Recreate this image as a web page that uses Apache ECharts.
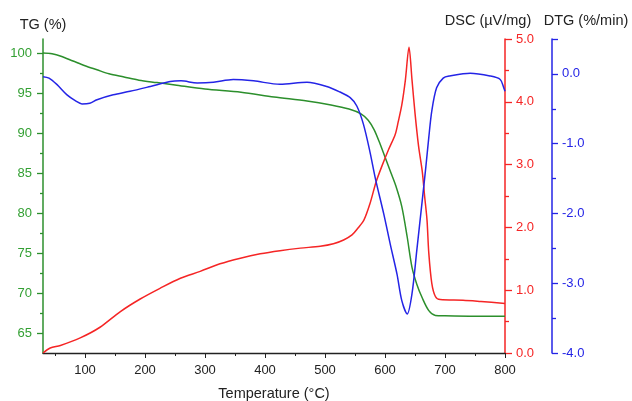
<!DOCTYPE html>
<html>
<head>
<meta charset="utf-8">
<script src="https://cdn.jsdelivr.net/npm/echarts@6/dist/echarts.min.js"></script>
<style>
  html, body { margin: 0; padding: 0; background: #fff; }
  #chart { width: 632px; height: 401px; }
</style>
</head>
<body>
<div id="chart"></div>
<script>
// TG curve (%)
var tgTemp = [30, 45, 60, 80, 100, 120, 140, 165, 190, 220, 250, 300, 360, 415, 470, 510, 540, 560, 572, 582, 592, 600, 610, 618, 628, 637, 645, 653, 662, 673, 684, 700, 750, 800];
var tgValues = [100, 99.9, 99.6, 99.0, 98.4, 97.9, 97.4, 97.0, 96.6, 96.3, 96.0, 95.5, 95.1, 94.5, 94.0, 93.5, 93.0, 92.4, 91.6, 90.4, 88.6, 87.0, 85.0, 83.4, 80.8, 77.0, 73.2, 71.1, 69.4, 67.8, 67.2, 67.15, 67.1, 67.1];

// DSC curve (µV/mg)
var dscTemp = [30, 42, 59, 92, 125, 159, 192, 225, 259, 292, 325, 359, 392, 425, 459, 492, 514, 531, 545, 555, 565, 575, 585, 595, 606, 617, 622, 628, 634, 640, 645, 650, 656, 662, 666, 670, 673, 678, 684, 692, 730, 760, 800];
var dscValues = [0.0, 0.08, 0.12, 0.24, 0.41, 0.66, 0.86, 1.03, 1.19, 1.30, 1.42, 1.51, 1.58, 1.63, 1.67, 1.70, 1.74, 1.80, 1.88, 1.99, 2.12, 2.38, 2.72, 2.98, 3.24, 3.48, 3.68, 3.95, 4.35, 4.87, 4.35, 3.82, 3.29, 2.90, 2.50, 2.12, 1.59, 1.11, 0.90, 0.85, 0.84, 0.82, 0.79];

// DTG curve (%/min)
var dtgTemp = [30, 40, 53, 70, 85, 95, 108, 120, 147, 175, 209, 242, 260, 287, 314, 347, 381, 425, 470, 503, 525, 542, 553, 564, 575, 584, 598, 609, 620, 628, 637, 645, 653, 662, 668, 673, 678, 686, 697, 708, 742, 775, 792, 798, 800];
var dtgValues = [-0.04, -0.06, -0.15, -0.30, -0.39, -0.43, -0.42, -0.37, -0.30, -0.25, -0.18, -0.11, -0.10, -0.13, -0.12, -0.08, -0.10, -0.15, -0.12, -0.18, -0.26, -0.34, -0.46, -0.72, -1.12, -1.50, -2.01, -2.45, -2.87, -3.25, -3.44, -3.15, -2.53, -1.82, -1.34, -0.91, -0.53, -0.20, -0.06, -0.03, 0.01, -0.03, -0.08, -0.20, -0.25];

// tick labels
var tempLabels = [100, 200, 300, 400, 500, 600, 700, 800];
var tempMinor = [50, 150, 250, 350, 450, 550, 650, 750];
var tgLabels = [65, 70, 75, 80, 85, 90, 95, 100];
var tgMinor = [67.5, 72.5, 77.5, 82.5, 87.5, 92.5, 97.5];

var GREEN = '#2c8f2c';
var GREEN_TXT = '#33a033';
var RED = '#f52525';
var BLUE = '#2424e6';
var FONT = 'Liberation Sans, Arial, sans-serif';
var NAME_SIZE = 14.5;

function zip(xs, ys) {
    return xs.map(function (x, i) { return [x, ys[i]]; });
}

var chartDom = document.getElementById('chart');
var myChart = echarts.init(chartDom);
var option = {
    animation: false,
    backgroundColor: '#fff',
    textStyle: { fontFamily: FONT },
    grid: {
        left: 43,
        right: 127,
        top: 39,
        bottom: 48,
        outerBoundsMode: 'none'
    },
    xAxis: [{
            type: 'value',
            position: 'bottom',
            min: 30,
            max: 800,
            name: 'Temperature (°C)',
            nameLocation: 'middle',
            nameGap: 33,
            nameTextStyle: { color: '#222', fontSize: NAME_SIZE, fontFamily: FONT },
            axisLine: { onZero: false, lineStyle: { color: '#222', width: 1.3 } },
            axisTick: { customValues: tempLabels, length: 5, lineStyle: { color: '#222' } },
            axisLabel: { customValues: tempLabels, color: '#222', fontSize: 13, margin: 11, fontFamily: FONT },
            splitLine: { show: false }
        },
        {
            // minor ticks only
            type: 'value',
            position: 'bottom',
            min: 30,
            max: 800,
            axisLine: { show: false, onZero: false },
            axisTick: { customValues: tempMinor, length: 3, lineStyle: { color: '#222' } },
            axisLabel: { show: false },
            splitLine: { show: false }
        }
    ],
    yAxis: [{
            type: 'value',
            position: 'left',
            min: 62.5,
            max: 101.75,
            name: 'TG (%)',
            nameLocation: 'end',
            nameGap: 7,
            nameTextStyle: { color: '#222', fontSize: NAME_SIZE, fontFamily: FONT },
            axisLine: { show: true, onZero: false, lineStyle: { color: GREEN, width: 1.5 } },
            axisTick: { show: true, customValues: tgLabels, length: 6, lineStyle: { color: GREEN, width: 1.3 } },
            axisLabel: { customValues: tgLabels, color: GREEN_TXT, fontSize: 13, margin: 11, fontFamily: FONT },
            splitLine: { show: false }
        },
        {
            type: 'value',
            position: 'right',
            min: 0,
            max: 5,
            interval: 1,
            name: 'DSC (µV/mg)',
            nameLocation: 'end',
            nameGap: 11,
            nameTextStyle: { color: '#222', fontSize: NAME_SIZE, align: 'center', padding: [0, 34, 0, 0], fontFamily: FONT },
            axisLine: { show: true, onZero: false, lineStyle: { color: RED, width: 1.5 } },
            axisTick: { show: true, length: 7, lineStyle: { color: RED, width: 1.3 } },
            minorTick: { show: true, splitNumber: 2, length: 4, lineStyle: { color: RED, width: 1.3 } },
            axisLabel: {
                color: RED, fontSize: 13, margin: 11, fontFamily: FONT,
                formatter: function (v) { return v.toFixed(1); }
            },
            splitLine: { show: false }
        },
        {
            type: 'value',
            position: 'right',
            offset: 47,
            min: -4,
            max: 0.5,
            interval: 1,
            name: 'DTG (%/min)',
            nameLocation: 'end',
            nameGap: 11,
            nameTextStyle: { color: '#222', fontSize: NAME_SIZE, align: 'center', padding: [0, 0, 0, 68], fontFamily: FONT },
            axisLine: { show: true, onZero: false, lineStyle: { color: BLUE, width: 1.5 } },
            axisTick: { show: true, length: 6, lineStyle: { color: BLUE, width: 1.3 } },
            minorTick: { show: true, splitNumber: 2, length: 4, lineStyle: { color: BLUE, width: 1.3 } },
            axisLabel: {
                color: BLUE, fontSize: 13, margin: 10, fontFamily: FONT, showMaxLabel: false,
                formatter: function (v) { return v.toFixed(1); }
            },
            splitLine: { show: false }
        },
        {
            // TG minor ticks
            type: 'value',
            position: 'left',
            min: 62.5,
            max: 101.75,
            axisLine: { show: false, onZero: false },
            axisTick: { show: true, customValues: tgMinor, length: 3, lineStyle: { color: GREEN, width: 1.3 } },
            axisLabel: { show: false },
            splitLine: { show: false }
        }
    ],
    series: [{
            name: 'TG',
            type: 'line',
            xAxisIndex: 0,
            yAxisIndex: 0,
            showSymbol: false,
            smooth: 0.3,
            lineStyle: { color: GREEN, width: 1.5 },
            data: zip(tgTemp, tgValues)
        },
        {
            name: 'DSC',
            type: 'line',
            xAxisIndex: 0,
            yAxisIndex: 1,
            showSymbol: false,
            smooth: 0.3,
            lineStyle: { color: RED, width: 1.5 },
            data: zip(dscTemp, dscValues)
        },
        {
            name: 'DTG',
            type: 'line',
            xAxisIndex: 0,
            yAxisIndex: 2,
            showSymbol: false,
            smooth: 0.3,
            lineStyle: { color: BLUE, width: 1.5 },
            data: zip(dtgTemp, dtgValues)
        }
    ]
};
option && myChart.setOption(option);
</script>
</body>
</html>
